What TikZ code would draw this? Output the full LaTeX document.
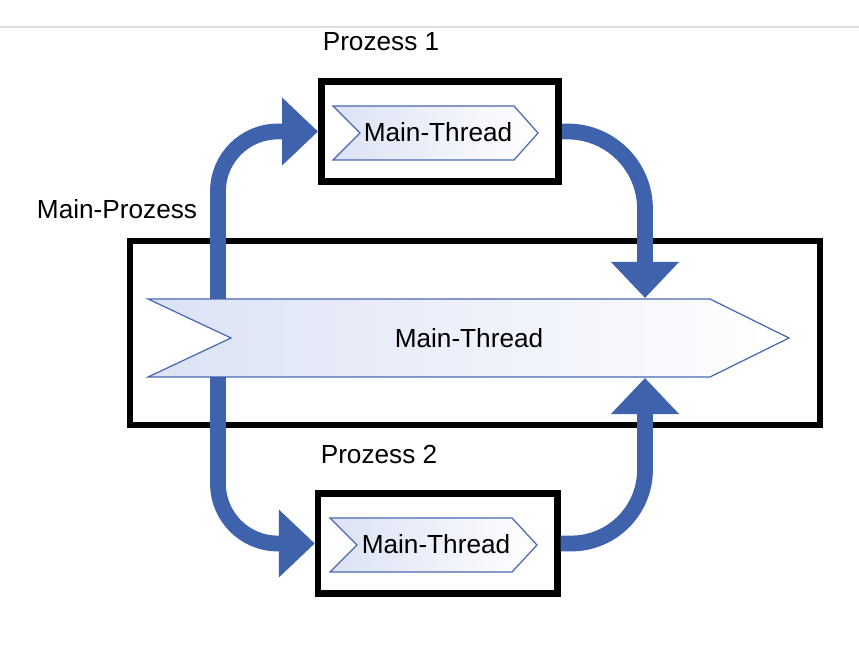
\documentclass[tikz,border=0pt]{standalone}
\usepackage{fontspec}
\setmainfont{Liberation Sans}
\usetikzlibrary{arrows.meta}
\definecolor{flowblue}{RGB}{62,98,172}
\definecolor{chevline}{RGB}{72,104,178}
\definecolor{chevfill}{RGB}{220,226,245}
\tikzset{
  procbox/.style={draw=black,line width=3.7pt,inner sep=0pt},
  chevron/.style={draw=chevline,line width=0.7pt,left color=chevfill,middle color=chevfill!35!white,right color=white},
  flow/.style={draw=flowblue,line width=9pt,-{Triangle[length=20.5pt,width=37.5pt]}},
  lbl/.style={font=\fontsize{14.9}{17.5}\selectfont,inner sep=1pt}
}
\begin{document}
\begin{tikzpicture}[x=0.02cm,y=-0.02cm]
  \useasboundingbox (0,0) rectangle (859,648);
  \draw[black!12,line width=0.6pt] (0,27) -- (859,27);

  % Main-Prozess
  \node[procbox,minimum width=13.8cm,minimum height=3.68cm] (mainbox) at (475,333) {};
  \draw[chevron] (148,299) -- (710,299) -- (789,338) -- (710,377) -- (148,377) -- (231,338) -- cycle;
  \node[lbl] (mt) at (469,338) {Main-Thread};
  \node[lbl] (lmain) at (117,209) {Main-Prozess};

  % Prozess 1
  \node[procbox,minimum width=4.75cm,minimum height=2cm] (p1) at (440,131.5) {};
  \draw[chevron] (333,106) -- (514,106) -- (538,133) -- (514,160) -- (333,160) -- (360,133) -- cycle;
  \node[lbl] (mt1) at (438,132) {Main-Thread};
  \node[lbl] (lp1) at (381,42) {Prozess 1};

  % Prozess 2
  \node[procbox,minimum width=4.79cm,minimum height=2cm] (p2) at (437.75,543.5) {};
  \draw[chevron] (330,518) -- (512,518) -- (537,545) -- (512,572) -- (330,572) -- (357,545) -- cycle;
  \node[lbl] (mt2) at (436,544) {Main-Thread};
  \node[lbl] (lp2) at (379,454) {Prozess 2};

  % Pfeile
  \coordinate (up1) at (218,299);
  \coordinate (dn1) at (645,298);
  \coordinate (dn2) at (218,377);
  \coordinate (up2) at (645,378);
  \draw[flow,rounded corners=34pt] (up1) |- (p1.west);
  \draw[flow,rounded corners=44pt] (p1.east) -| (dn1);
  \draw[flow,rounded corners=34pt] (dn2) |- (p2.west);
  \draw[flow,rounded corners=42pt] (p2.east) -| (up2);
\end{tikzpicture}
\end{document}
